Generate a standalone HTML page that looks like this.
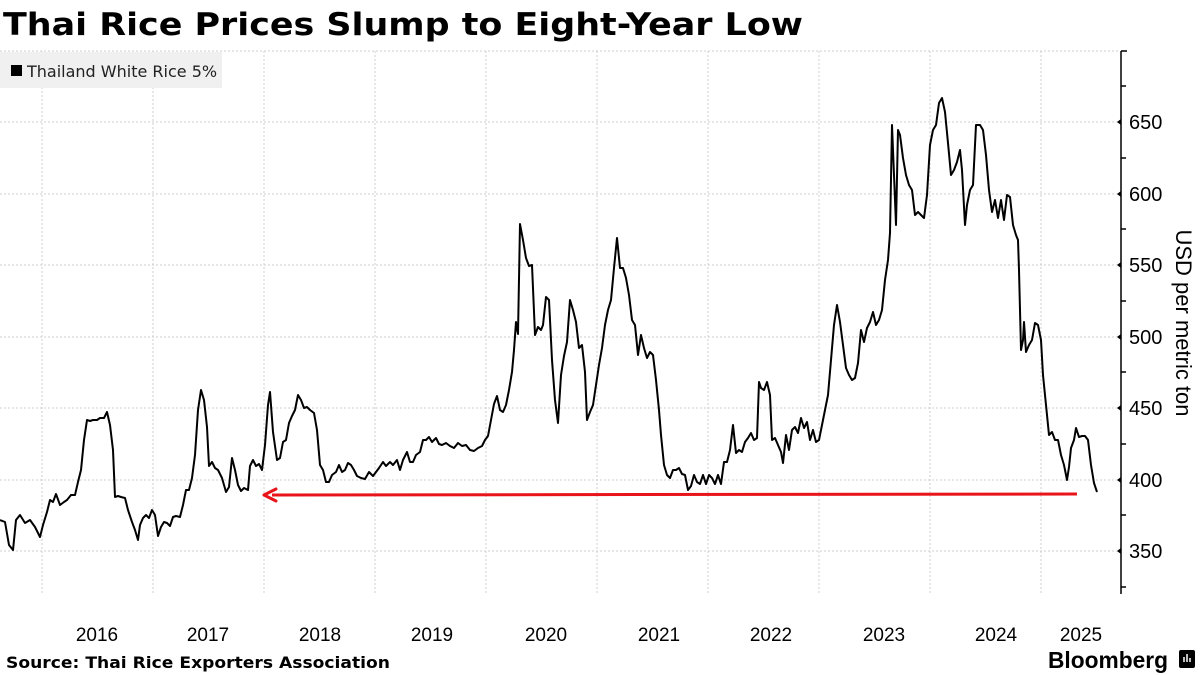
<!DOCTYPE html>
<html><head><meta charset="utf-8"><style>
body{margin:0;width:1200px;height:675px;background:#fff;overflow:hidden;font-family:"Liberation Sans",sans-serif;}
</style></head><body>
<svg width="1200" height="675" xmlns="http://www.w3.org/2000/svg" style="position:absolute;left:0;top:0">
<text x="3" y="35" font-size="31" font-weight="bold" fill="#000" font-family="DejaVu Sans" textLength="800" lengthAdjust="spacingAndGlyphs">Thai Rice Prices Slump to Eight-Year Low</text>
<g stroke="#cfcfcf" stroke-width="1" stroke-dasharray="2,2">
<line x1="0" y1="51" x2="1120" y2="51"/><line x1="0" y1="122" x2="1120" y2="122"/><line x1="0" y1="194" x2="1120" y2="194"/><line x1="0" y1="265" x2="1120" y2="265"/><line x1="0" y1="337" x2="1120" y2="337"/><line x1="0" y1="408" x2="1120" y2="408"/><line x1="0" y1="480" x2="1120" y2="480"/><line x1="0" y1="551" x2="1120" y2="551"/>
<line x1="42" y1="51" x2="42" y2="594"/><line x1="153" y1="51" x2="153" y2="594"/><line x1="264" y1="51" x2="264" y2="594"/><line x1="375" y1="51" x2="375" y2="594"/><line x1="486" y1="51" x2="486" y2="594"/><line x1="597" y1="51" x2="597" y2="594"/><line x1="708" y1="51" x2="708" y2="594"/><line x1="819" y1="51" x2="819" y2="594"/><line x1="930" y1="51" x2="930" y2="594"/><line x1="1041" y1="51" x2="1041" y2="594"/>
</g>
<rect x="0" y="52" width="222" height="36" fill="#f0f0f0"/>
<rect x="11" y="65" width="11" height="11" fill="#000"/>
<text x="27" y="77" font-size="16" fill="#222" font-family="DejaVu Sans">Thailand White Rice 5%</text>
<g stroke="#000" stroke-width="1.5">
<line x1="1121" y1="51" x2="1121" y2="594"/>
<line x1="1121" y1="51" x2="1127" y2="51"/><line x1="1121" y1="86" x2="1126" y2="86"/><line x1="1121" y1="158" x2="1126" y2="158"/><line x1="1121" y1="229" x2="1126" y2="229"/><line x1="1121" y1="301" x2="1126" y2="301"/><line x1="1121" y1="372" x2="1126" y2="372"/><line x1="1121" y1="444" x2="1126" y2="444"/><line x1="1121" y1="515" x2="1126" y2="515"/><line x1="1121" y1="587" x2="1126" y2="587"/>
</g>
<g fill="#000"><path d="M1121 119l-4 3 4 3z"/><path d="M1121 191l-4 3 4 3z"/><path d="M1121 262l-4 3 4 3z"/><path d="M1121 334l-4 3 4 3z"/><path d="M1121 405l-4 3 4 3z"/><path d="M1121 477l-4 3 4 3z"/><path d="M1121 548l-4 3 4 3z"/></g>
<g font-size="20" fill="#000" font-family="Liberation Sans">
<text x="1129" y="129">650</text><text x="1129" y="201">600</text><text x="1129" y="272">550</text><text x="1129" y="344">500</text><text x="1129" y="415">450</text><text x="1129" y="487">400</text><text x="1129" y="558">350</text>
</g>
<text transform="translate(1176,323) rotate(90)" text-anchor="middle" font-size="22" fill="#000" font-family="Liberation Sans">USD per metric ton</text>
<g font-size="19" fill="#000" text-anchor="middle" font-family="Liberation Sans">
<text x="97" y="641">2016</text><text x="208" y="641">2017</text><text x="320" y="641">2018</text><text x="432" y="641">2019</text><text x="546" y="641">2020</text><text x="659" y="641">2021</text><text x="771" y="641">2022</text><text x="884" y="641">2023</text><text x="996" y="641">2024</text><text x="1081" y="641">2025</text>
</g>
<polyline fill="none" stroke="#000" stroke-width="2" stroke-linejoin="round" points="0,520 5,522 9,545 13,550 16,520 20,515 25,523 30,520 35,527 40,537 43,525 47,512 50,500 53,502 56,494 60,505 64,502 67,500 71,495 75,495 78,482 81,470 84,440 87,420 90,421 93,420 97,420 100,418 104,418 107,412 110,425 113,450 115,497 118,496 121,497 125,498 128,510 132,522 135,530 138,540 140,525 143,518 146,515 149,518 152,510 155,515 158,536 161,527 164,522 167,523 170,526 173,517 176,516 180,517 183,505 186,490 189,490 192,478 195,455 198,410 201,390 204,400 207,427 209,466 212,462 215,468 218,470 222,478 226,492 229,487 232,458 235,470 238,485 241,491 244,488 248,490 250,466 253,460 256,466 259,464 262,470 265,445 268,405 270,392 273,432 277,460 280,458 283,442 286,440 289,423 292,416 295,410 298,395 301,400 304,408 307,407 310,410 314,413 317,430 320,465 323,470 326,482 329,482 332,475 336,472 339,465 342,472 345,470 348,463 351,465 354,470 357,476 361,478 365,479 369,472 373,476 376,472 379,468 383,462 386,466 390,462 393,465 397,460 400,470 403,460 407,452 410,462 413,462 416,455 420,452 423,440 426,440 429,437 432,442 436,438 439,444 442,445 446,443 450,446 454,448 458,443 462,446 466,445 470,450 474,451 478,448 482,446 485,440 488,436 491,420 494,404 497,396 500,410 503,412 506,405 509,390 512,372 514,350 516,322 518,334 520,224 523,240 526,258 529,266 532,265 535,335 538,327 541,330 543,325 546,297 549,300 552,360 555,400 558,423 561,375 564,356 567,342 570,300 573,310 576,322 579,348 582,345 585,372 587,420 590,412 593,405 596,385 599,365 602,348 605,325 608,310 611,300 614,268 617,238 620,268 623,268 626,278 629,295 632,320 635,325 638,355 641,335 644,348 647,358 650,352 653,355 656,380 659,410 661,435 664,465 667,475 670,478 673,470 676,470 679,468 682,474 685,475 688,490 691,486 694,475 697,482 700,484 703,475 706,484 709,475 712,478 715,484 718,475 721,484 724,462 727,462 730,450 733,425 736,453 739,450 742,452 745,442 748,438 751,433 754,440 757,438 759,382 761,388 764,390 767,382 770,395 772,440 775,438 778,445 781,452 783,463 786,435 789,450 792,430 795,427 798,433 801,418 804,428 807,422 810,440 813,430 816,442 819,440 822,425 825,410 828,395 831,360 834,325 837,305 840,322 843,345 846,368 849,375 852,380 855,378 858,363 861,330 864,342 867,328 870,322 873,312 876,325 879,320 882,310 885,280 888,260 890,233 892,125 894,175 896,225 898,130 900,135 903,158 906,175 909,185 912,190 915,215 918,212 921,215 924,218 927,195 930,145 933,130 936,125 939,103 942,98 945,112 948,143 951,175 954,170 957,162 960,150 962,170 965,225 967,205 970,190 973,185 976,125 980,125 983,130 986,155 989,190 992,212 995,200 998,218 1001,200 1004,220 1007,195 1010,197 1013,225 1016,235 1018,240 1019,270 1021,350 1023,340 1024,322 1026,352 1029,345 1032,340 1035,323 1038,325 1041,340 1043,375 1046,405 1049,435 1052,432 1055,440 1058,440 1061,455 1064,465 1067,480 1069,467 1071,448 1074,440 1076,428 1079,437 1082,436 1085,436 1088,440 1091,465 1094,483 1097,492"/>
<line x1="272" y1="495" x2="1077" y2="494" stroke="#e8141a" stroke-width="3"/>
<path d="M264 495 L276 489 M264 495 L276 501" stroke="#e8141a" stroke-width="3" fill="none" stroke-linecap="round"/>
<text x="6" y="668" font-size="16" font-weight="bold" fill="#000" font-family="DejaVu Sans" textLength="384" lengthAdjust="spacingAndGlyphs">Source: Thai Rice Exporters Association</text>
<text x="1048" y="668" font-size="23" font-weight="bold" fill="#000" font-family="Liberation Sans" textLength="120" lengthAdjust="spacingAndGlyphs">Bloomberg</text>
<rect x="1179" y="650" width="16" height="18" rx="2" fill="#000"/>
<g stroke="#fff" stroke-width="1.5"><line x1="1184" y1="662" x2="1184" y2="657"/><line x1="1187" y1="662" x2="1187" y2="654"/><line x1="1190" y1="662" x2="1190" y2="658"/></g>
</svg>
</body></html>
